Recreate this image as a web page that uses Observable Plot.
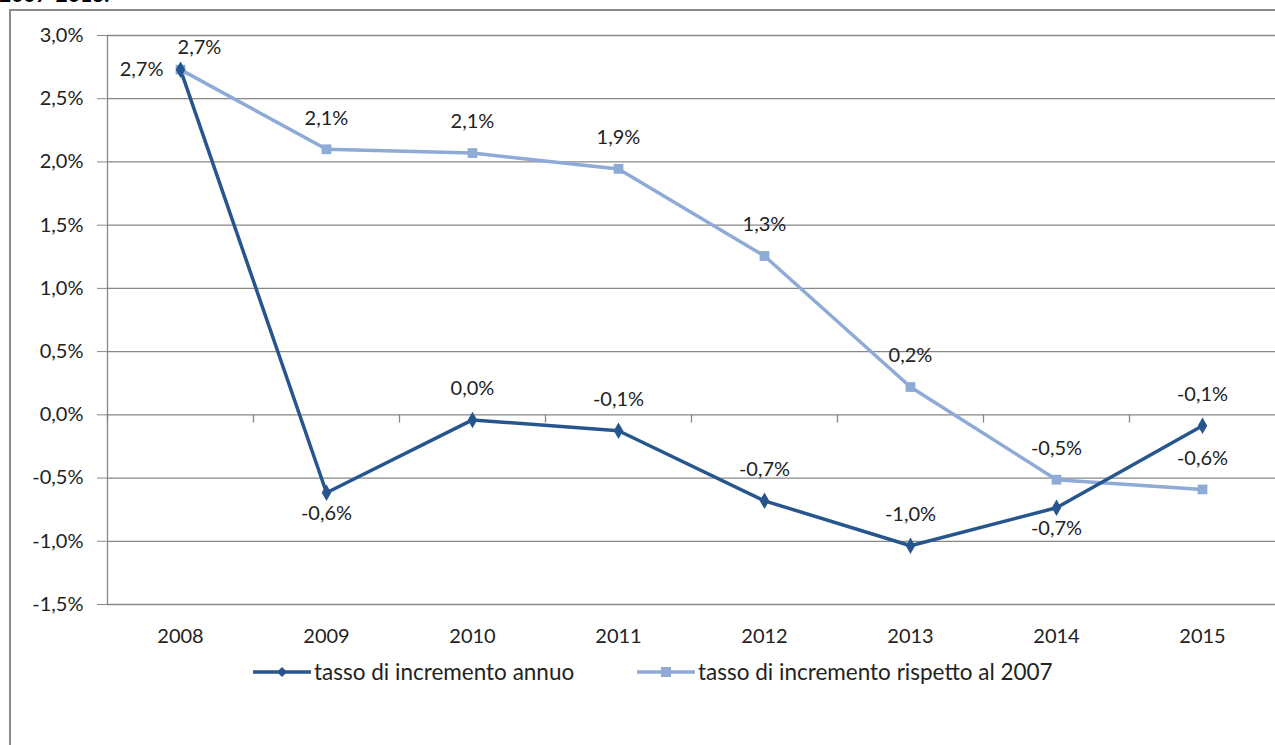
<!DOCTYPE html>
<html><head><meta charset="utf-8">
<script src="https://cdn.jsdelivr.net/npm/d3@7"></script>
<script src="https://cdn.jsdelivr.net/npm/@observablehq/plot@0.6"></script>
<style>
html,body{margin:0;padding:0;background:#fff;overflow:hidden;width:1275px;height:745px;}
#page{position:relative;width:1275px;height:745px;font-family:Lato,sans-serif;overflow:hidden;}
#title{position:absolute;left:-1px;top:-19px;font:bold 21px Lato,sans-serif;color:#000;white-space:nowrap;}
#frame{position:absolute;left:9px;top:9px;width:1400px;height:900px;border:2px solid #8c8c8c;box-sizing:border-box;}
#chart{position:absolute;left:0;top:0;}
.leg{position:absolute;top:658px;display:flex;align-items:center;font:22.5px Lato,sans-serif;color:#222;white-space:nowrap;}
.leg svg{margin-right:3px;}
</style></head>
<body><div id="page">
<div id="title">2007-2013.</div>
<div id="frame"></div>
<div id="chart"></div>
<div id="legend"></div>
</div>
<script>
const years = ["2008","2009","2010","2011","2012","2013","2014","2015"];
const annualRate = [2.73, -0.616, -0.04, -0.126, -0.68, -1.035, -0.735, -0.087];
const rateVs2007 = [2.73, 2.10, 2.07, 1.945, 1.256, 0.22, -0.513, -0.59];
const yTicks = [-1.5, -1.0, -0.5, 0, 0.5, 1.0, 1.5, 2.0, 2.5, 3.0];
const seriesNames = ["tasso di incremento annuo", "tasso di incremento rispetto al 2007"];
const colors = ["#27568f", "#8eaad6"];
const annualBelow = ["2009", "2014"];

const loc = d3.formatLocale({decimal: ",", thousands: ".", grouping: [3], currency: ["", "€"], minus: "-"});
const f1 = loc.format(".1f");
const pct = v => f1(v) + "%";

const annual = years.map((year, i) => ({year, value: annualRate[i]}));
const vs2007 = years.map((year, i) => ({year, value: rateVs2007[i]}));

const W = 1275, H = 650, ML = 107, MR = 0, MT = 35, MB = 46;
const bw = (W - ML - MR) / years.length;
const grid = "#878787";
const font = "Lato, sans-serif";

const chart = Plot.plot({
  width: W, height: H,
  marginLeft: ML, marginRight: MR, marginTop: MT, marginBottom: MB,
  style: {fontFamily: font, fontSize: "20px", color: "#222", background: "transparent"},
  x: {type: "band", domain: years, padding: 0, label: null},
  y: {domain: [-1.5, 3.0], label: null},
  marks: [
    Plot.ruleY(yTicks, {stroke: grid, strokeWidth: 1.3}),
    Plot.ruleX([years[0]], {dx: -bw / 2, stroke: grid, strokeWidth: 1.3}),
    Plot.ruleX(years, {y1: 0, y2: -0.065, dx: -bw / 2, stroke: grid, strokeWidth: 1.3}),
    Plot.axisY({ticks: yTicks, tickSize: 10, tickPadding: 14, tickFormat: pct, stroke: grid, fill: "#222", fontSize: 20, label: null}),
    Plot.axisX({tickSize: 0, tickPadding: 24, fill: "#222", fontSize: 20, label: null}),
    Plot.line(vs2007, {x: "year", y: "value", stroke: colors[1], strokeWidth: 3.5}),
    Plot.line(annual, {x: "year", y: "value", stroke: colors[0], strokeWidth: 3.5}),
    Plot.dot(vs2007, {x: "year", y: "value", symbol: "square", r: 5.5, fill: colors[1]}),
    Plot.dot(annual, {x: "year", y: "value", symbol: "diamond", r: 5, fill: colors[0]}),
    // labels: rate vs 2007
    Plot.text(vs2007.slice(0, 1), {x: "year", y: "value", text: d => pct(d.value), dx: 19, dy: -22, fill: "#222", fontSize: 20}),
    Plot.text(vs2007.slice(1), {x: "year", y: "value", text: d => pct(d.value), dy: -31, fill: "#222", fontSize: 20}),
    // labels: annual
    Plot.text(annual.slice(0, 1), {x: "year", y: "value", text: d => pct(d.value), dx: -17, textAnchor: "end", fill: "#222", fontSize: 20}),
    Plot.text(annual.slice(1).filter(d => annualBelow.includes(d.year)), {x: "year", y: "value", text: d => pct(d.value), dy: 21, fill: "#222", fontSize: 20}),
    Plot.text(annual.slice(1).filter(d => !annualBelow.includes(d.year)), {x: "year", y: "value", text: d => pct(d.value), dy: -31, fill: "#222", fontSize: 20})
  ]
});
document.getElementById("chart").appendChild(chart);

// legend
const legend = document.getElementById("legend");
const legLeft = [253, 637];
const markerSvg = [
  c => `<svg width="58" height="24"><line x1="0" y1="12" x2="58" y2="12" stroke="${c}" stroke-width="3.5"/><path d="M29,7 L34,12 L29,17 L24,12 Z" fill="${c}"/></svg>`,
  c => `<svg width="58" height="24"><line x1="0" y1="12" x2="58" y2="12" stroke="${c}" stroke-width="3.5"/><rect x="24" y="7" width="10" height="10" fill="${c}"/></svg>`
];
seriesNames.forEach((name, i) => {
  const item = document.createElement("div");
  item.className = "leg";
  item.style.left = legLeft[i] + "px";
  item.innerHTML = markerSvg[i](colors[i]) + `<span>${name}</span>`;
  legend.appendChild(item);
});
</script>
</body></html>
